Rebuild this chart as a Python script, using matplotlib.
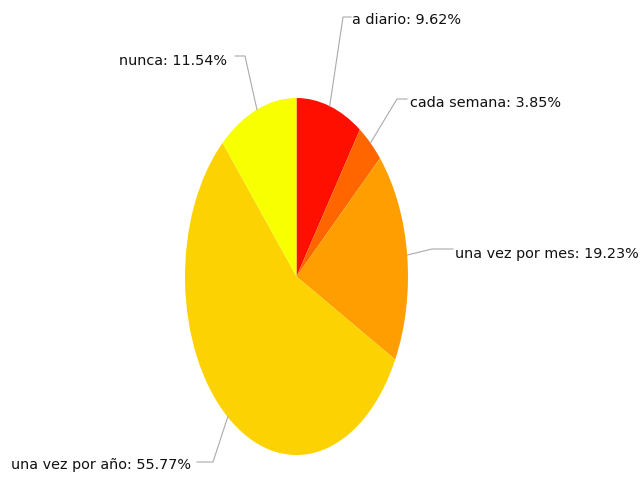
import numpy as np
import matplotlib
matplotlib.use('Agg')
import matplotlib.pyplot as plt

labels = ['a diario', 'cada semana', 'una vez por mes', 'una vez por año', 'nunca']
values = [9.62, 3.85, 19.23, 55.77, 11.54]
colors = ['#FF0F00', '#FF6600', '#FF9E01', '#FCD202', '#F8FF01']

W, H = 644, 478
fig = plt.figure(figsize=(W / 100, H / 100), dpi=100)

# pie box in pixels (the chart is stretched into an ellipse)
left, top, right, bottom = 185, 98, 408, 455
ax = fig.add_axes([left / W, 1 - bottom / H, (right - left) / W, (bottom - top) / H])
wedges, _ = ax.pie(values, colors=colors, startangle=90, counterclock=False,
                   radius=1, wedgeprops=dict(linewidth=0))
ax.set_xlim(-1, 1)
ax.set_ylim(-1, 1)
ax.set_aspect('auto')
ax.axis('off')

cx, cy = (left + right) / 2, (top + bottom) / 2
rx, ry = (right - left) / 2, (bottom - top) / 2

def to_data(px, py):
    return (px - cx) / rx, (cy - py) / ry

# leader elbows, line ends and label anchors in pixels (same order as labels)
elbows = [(343, 17), (397, 99), (432, 249), (213, 462), (245, 56)]
ends = [(351, 17), (407, 99), (453, 249), (197, 462), (235, 56)]
texts = [(352, 20), (410, 103), (455, 254), (191, 465), (227, 61)]
aligns = ['left', 'left', 'left', 'right', 'right']

for w, lab, v, e, n, t, ha in zip(wedges, labels, values, elbows, ends, texts, aligns):
    ang = np.deg2rad((w.theta1 + w.theta2) / 2)
    x0, y0 = np.cos(ang), np.sin(ang)
    ex, ey = to_data(*e)
    nx, ny = to_data(*n)
    ax.plot([x0, ex, nx], [y0, ey, ny], color='#aaaaaa', lw=0.8, clip_on=False)
    tx, ty = to_data(*t)
    ax.text(tx, ty, f'{lab}: {v:.2f}%', ha=ha, va='center', fontsize=10.4,
            color='#111111', clip_on=False)

fig.savefig('out.png', dpi=100)
